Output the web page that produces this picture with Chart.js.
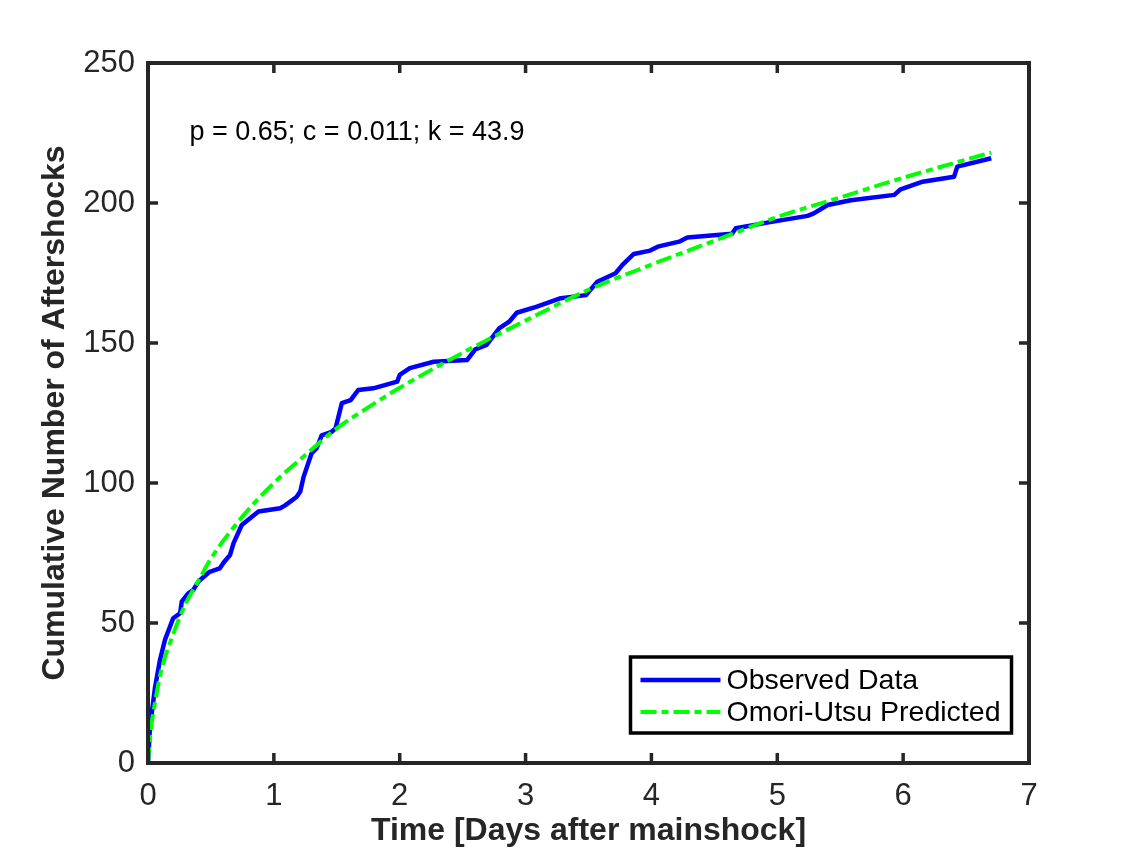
<!DOCTYPE html>
<html>
<head>
<meta charset="utf-8">
<title>Omori-Utsu fit</title>
<script src="https://cdn.jsdelivr.net/npm/chart.js@4.4.1/dist/chart.umd.min.js"></script>
<style>
    html, body { margin: 0; padding: 0; background: #fff; }
    #wrap { width: 1138px; height: 857px; }
</style>
</head>
<body>
<div id="wrap"><canvas id="chart" width="1138" height="857"></canvas></div>
<script>
// Observed cumulative aftershock count
const obsDays = [0, 0.016, 0.056, 0.095, 0.135, 0.2, 0.255, 0.268, 0.32, 0.36, 0.4, 0.49, 0.57, 0.6,
    0.652, 0.68, 0.745, 0.878, 1.05, 1.09, 1.18, 1.21, 1.235, 1.3, 1.34, 1.38, 1.46, 1.49, 1.54,
    1.61, 1.67, 1.79, 1.98, 2.0, 2.08, 2.27, 2.535, 2.6, 2.69, 2.79, 2.87, 2.93, 3.09, 3.28, 3.48,
    3.57, 3.715, 3.77, 3.86, 3.99, 4.05, 4.22, 4.285, 4.64, 4.67, 4.92, 5.24, 5.29, 5.4, 5.585,
    5.93, 5.98, 6.155, 6.405, 6.43, 6.7];
const obsCount = [0, 13, 27, 36.8, 44, 51.7, 53.5, 57.6, 60.6, 61.8, 64.8, 68.3, 69.5, 71.5,
    74.3, 78.5, 85, 89.8, 91, 92, 95, 97, 102, 110.6, 112.4, 117, 118.3, 119.5, 128.5,
    129.6, 133.2, 133.8, 136.2, 138.6, 141, 143.3, 143.9, 147.7, 149.3, 155.2, 157.6, 160.8, 163, 166, 167.1,
    171.9, 174.9, 177.9, 181.8, 183, 184.4, 186.2, 187.7, 189, 191, 193, 195.4, 196.3, 199.3, 201,
    202.9, 204.9, 207.6, 209.4, 213, 216];

// Omori-Utsu predicted curve
const predDays = [0, 0.02, 0.05, 0.1, 0.2, 0.3, 0.4, 0.5, 0.75, 1, 1.25, 1.5, 1.75, 2, 2.5, 3,
    3.5, 4, 4.5, 5, 5.5, 6, 6.5, 6.7];
const predCount = [0, 11, 20, 32, 46, 57, 65, 73, 88, 100, 110, 119.5, 127, 134, 146.5, 158,
    169, 178, 186.5, 195, 202, 209, 215.5, 218];

const xTicks = [0, 1, 2, 3, 4, 5, 6, 7];
const yTicks = [0, 50, 100, 150, 200, 250];
const fitLabel = 'p = 0.65; c = 0.011; k = 43.9';
const fitLabelAt = { x: 0.33, y: 225 };

const FONT = '"Liberation Sans", Arial, Helvetica, sans-serif';
const INK = '#262626';
const BLUE = '#0000ff';
const GREEN = '#00ff00';
const GREEN_DASH = [16, 5, 7, 5];

const toPoints = (xs, ys) => xs.map((x, i) => ({ x, y: ys[i] }));

// Frame with inward ticks on all four sides, MATLAB "box on" style
const framePlugin = {
    id: 'frame',
    afterDatasetsDraw(chart) {
        const { ctx, chartArea: a, scales: { x, y } } = chart;
        const len = 10;
        ctx.save();
        ctx.strokeStyle = INK;
        ctx.lineWidth = 3.5;
        ctx.beginPath();
        xTicks.forEach(v => {
            const px = x.getPixelForValue(v);
            ctx.moveTo(px, a.bottom); ctx.lineTo(px, a.bottom - len);
            ctx.moveTo(px, a.top); ctx.lineTo(px, a.top + len);
        });
        yTicks.forEach(v => {
            const py = y.getPixelForValue(v);
            ctx.moveTo(a.left, py); ctx.lineTo(a.left + len, py);
            ctx.moveTo(a.right, py); ctx.lineTo(a.right - len, py);
        });
        ctx.stroke();
        ctx.lineWidth = 4;
        ctx.strokeRect(a.left, a.top, a.right - a.left, a.bottom - a.top);
        ctx.restore();
    }
};

// Fit parameters text and the boxed legend in the lower right
const notesPlugin = {
    id: 'notes',
    afterDraw(chart) {
        const { ctx, chartArea: a, scales: { x, y } } = chart;
        ctx.save();
        ctx.fillStyle = '#000';
        ctx.font = '27px ' + FONT;
        ctx.textBaseline = 'middle';
        ctx.textAlign = 'left';
        ctx.fillText(fitLabel, x.getPixelForValue(fitLabelAt.x), y.getPixelForValue(fitLabelAt.y));

        const boxW = 381, boxH = 76;
        const bx = a.right - 17.5 - boxW;
        const by = a.bottom - 30 - boxH;
        ctx.fillStyle = '#fff';
        ctx.fillRect(bx, by, boxW, boxH);
        ctx.strokeStyle = '#000';
        ctx.lineWidth = 3.5;
        ctx.strokeRect(bx, by, boxW, boxH);

        chart.data.datasets.forEach((ds, i) => {
            const cy = by + 23 + i * 32;
            ctx.beginPath();
            ctx.strokeStyle = ds.borderColor;
            ctx.lineWidth = ds.borderWidth;
            ctx.setLineDash(ds.borderDash || []);
            ctx.moveTo(bx + 10, cy);
            ctx.lineTo(bx + 90, cy);
            ctx.stroke();
            ctx.setLineDash([]);
            ctx.fillStyle = '#000';
            ctx.font = '28.5px ' + FONT;
            ctx.fillText(ds.label, bx + 96, cy + 1);
        });
        ctx.restore();
    }
};

new Chart(document.getElementById('chart'), {
    type: 'scatter',
    data: {
        datasets: [{
            label: 'Observed Data',
            data: toPoints(obsDays, obsCount),
            showLine: true,
            borderColor: BLUE,
            borderWidth: 4.5,
            borderJoinStyle: 'round',
            pointRadius: 0,
            order: 1
        }, {
            label: 'Omori-Utsu Predicted',
            data: toPoints(predDays, predCount),
            showLine: true,
            borderColor: GREEN,
            borderWidth: 4,
            borderDash: GREEN_DASH,
            cubicInterpolationMode: 'monotone',
            tension: 0.4,
            pointRadius: 0,
            order: 0
        }]
    },
    options: {
        responsive: false,
        animation: false,
        devicePixelRatio: 1,
        layout: { padding: { left: 0, top: 63, right: 109, bottom: 0 } },
        plugins: {
            legend: { display: false },
            tooltip: { enabled: false }
        },
        scales: {
            x: {
                type: 'linear',
                min: 0,
                max: 7,
                afterBuildTicks: s => { s.ticks = xTicks.map(v => ({ value: v })); },
                afterFit: s => { s.height = 94; },
                grid: { display: false, drawTicks: false },
                border: { display: false },
                ticks: {
                    padding: 15,
                    color: INK,
                    font: { family: FONT, size: 31 },
                    maxRotation: 0
                },
                title: {
                    display: true,
                    text: 'Time [Days after mainshock]',
                    color: INK,
                    font: { family: FONT, size: 32, weight: 'bold' },
                    padding: { top: 0, bottom: 7 }
                }
            },
            y: {
                type: 'linear',
                min: 0,
                max: 250,
                afterBuildTicks: s => { s.ticks = yTicks.map(v => ({ value: v })); },
                afterFit: s => { s.width = 148; },
                grid: { display: false, drawTicks: false },
                border: { display: false },
                ticks: {
                    padding: 13,
                    color: INK,
                    font: { family: FONT, size: 31 }
                },
                title: {
                    display: true,
                    text: 'Cumulative Number of Aftershocks',
                    color: INK,
                    font: { family: FONT, size: 32, weight: 'bold' },
                    padding: { top: 36, bottom: 0 }
                }
            }
        }
    },
    plugins: [framePlugin, notesPlugin]
});
</script>
</body>
</html>
